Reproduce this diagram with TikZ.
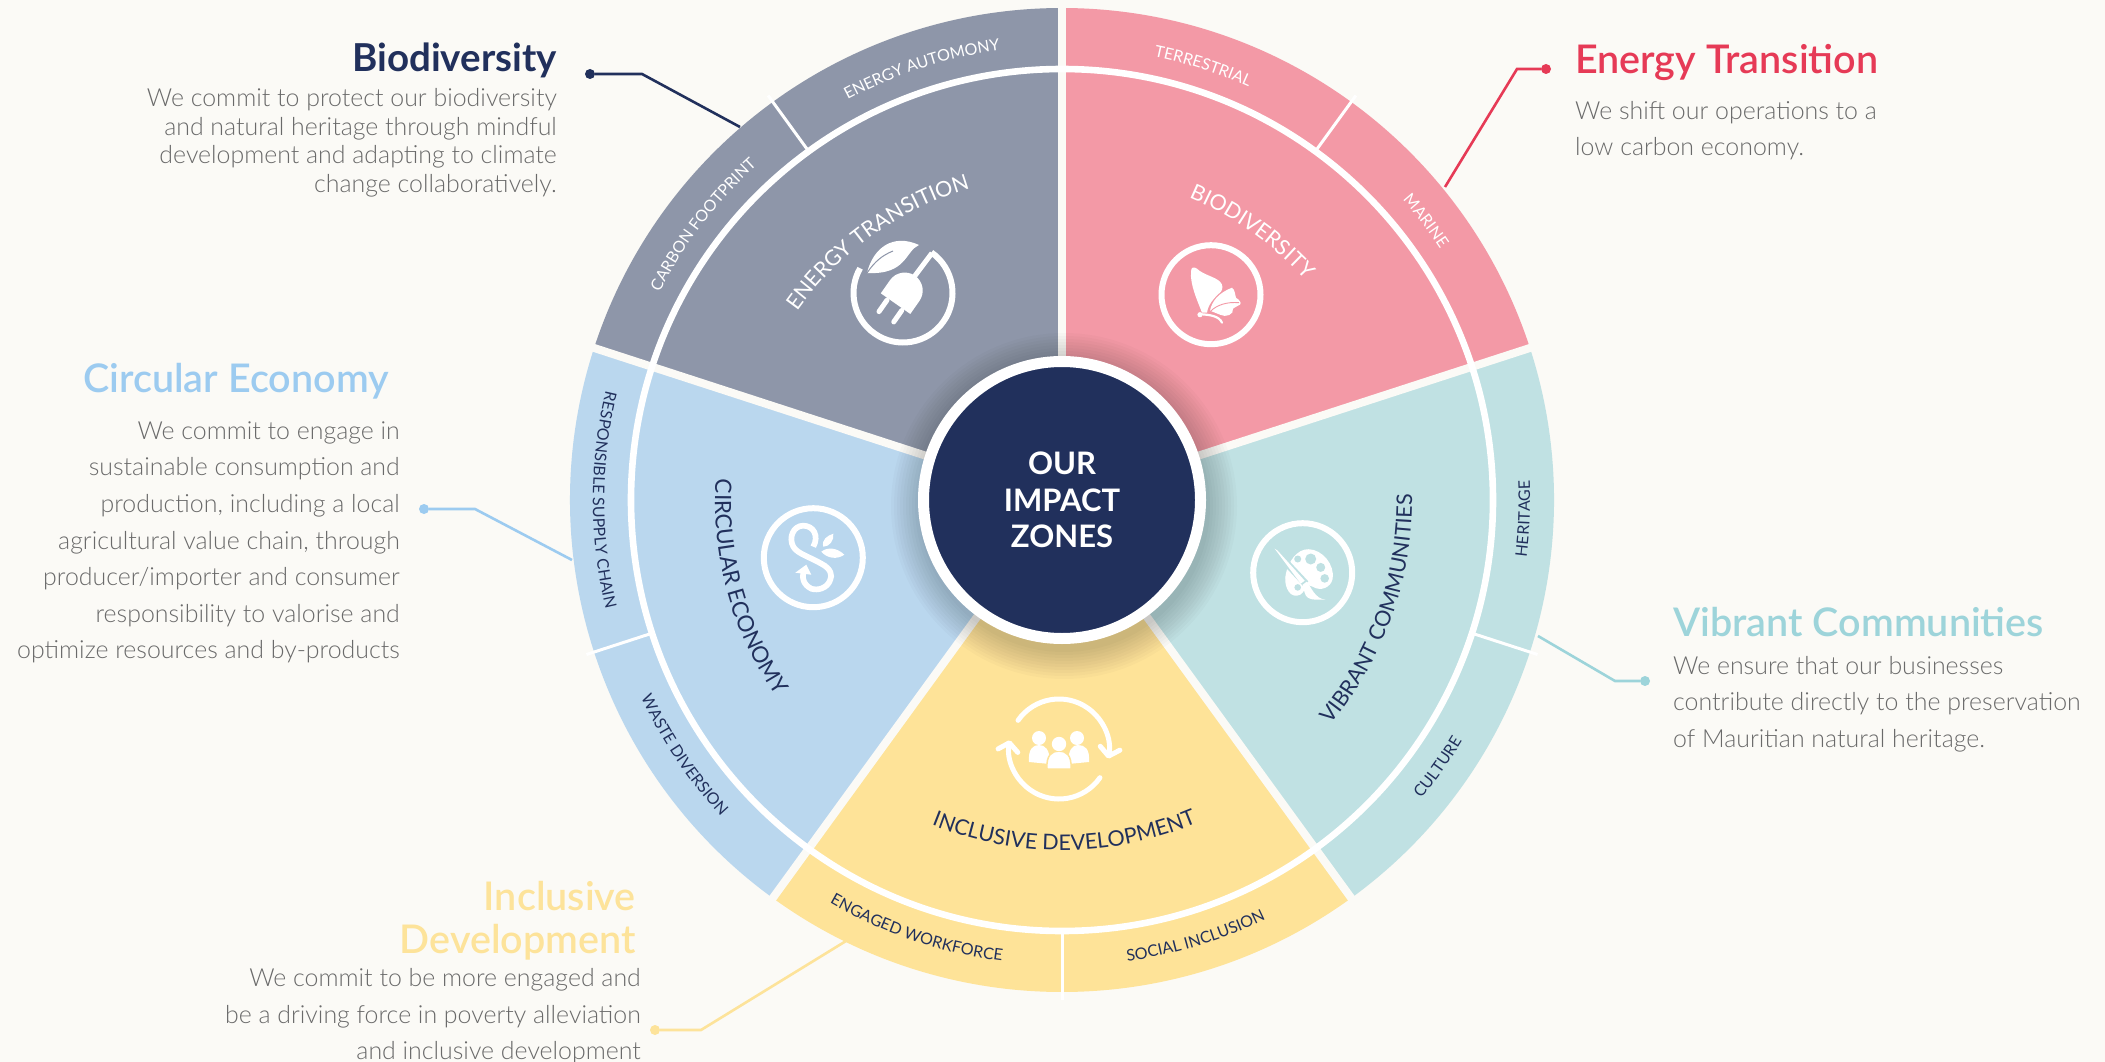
\documentclass[tikz,border=0pt]{standalone}
\usepackage{fontspec}
\setmainfont{Lato}
\newfontfamily\lightface{Lato Light}
\newfontfamily\headface{Lato Semibold}
\usetikzlibrary{positioning, calc, arrows.meta, decorations.text}
\definecolor{pagecream}{HTML}{FBFAF6}
\definecolor{navy}{HTML}{21305C}
\definecolor{zonegrey}{HTML}{8E96A9}
\definecolor{zonepink}{HTML}{F399A6}
\definecolor{zoneteal}{HTML}{C0E1E3}
\definecolor{zoneyellow}{HTML}{FEE398}
\definecolor{zoneblue}{HTML}{BAD7EE}
\definecolor{headred}{HTML}{E63A56}
\definecolor{headblue}{HTML}{9CCBF0}
\definecolor{headteal}{HTML}{9DD4DA}
\definecolor{headyellow}{HTML}{FDE39A}
\definecolor{bodygrey}{HTML}{6A6A6A}
\newcommand{\zonefont}{\fontsize{21.5}{26}\selectfont}
\newcommand{\rimfont}{\fontsize{16}{19}\selectfont}
% clockwise text, letter tops outwards: format, radius, middle angle, text
\newcommand{\cwlabel}[4]{\path[decorate, decoration={text along path, text align={center}, text={|#1|#4}}]
	($(hub)+(#3+65:#2)$) arc[start angle=#3+65, delta angle=-130, radius=#2];}
% counter clockwise text, letter tops towards the hub
\newcommand{\ccwlabel}[4]{\path[decorate, decoration={text along path, text align={center}, text={|#1|#4}}]
	($(hub)+(#3-65:#2)$) arc[start angle=#3-65, delta angle=130, radius=#2];}
\tikzset{
	headtext/.style={inner sep=0pt, font=\headface\fontsize{39.5}{43}\selectfont}, % the coloured titles
	bodytext/.style={inner sep=0pt, text=bodygrey, font=\lightface\fontsize{24.9}{36.6}\selectfont}, % the grey paragraphs
	dotend/.style={circle, inner sep=0pt, minimum size=10pt}, % the free end of a callout
	callout/.style={line width=2.6pt},
	gapline/.style={draw=pagecream, line width=8pt},
	rimline/.style={draw=white, line width=3pt},
	iconring/.style={draw=white, line width=6pt},
}

\begin{document}
\begin{tikzpicture}[x=1pt, y=1pt]
	\useasboundingbox (0,-1062) rectangle (2105,0);
	\fill[pagecream] (0,-1062) rectangle (2105,0);
	\coordinate (hub) at (1062,-500);

	% the five zones
	\fill[zonegrey] (hub) -- ($(hub)+(90:492)$) arc[start angle=90, delta angle=72, radius=492] -- cycle;
	\fill[zoneblue] (hub) -- ($(hub)+(162:492)$) arc[start angle=162, delta angle=72, radius=492] -- cycle;
	\fill[zoneyellow] (hub) -- ($(hub)+(234:492)$) arc[start angle=234, delta angle=72, radius=492] -- cycle;
	\fill[zoneteal] (hub) -- ($(hub)+(306:492)$) arc[start angle=306, delta angle=72, radius=492] -- cycle;
	\fill[zonepink] (hub) -- ($(hub)+(18:492)$) arc[start angle=18, delta angle=72, radius=492] -- cycle;

	\draw[gapline] (hub) -- ($(hub)+(90:497)$);
	\draw[gapline] (hub) -- ($(hub)+(162:497)$);
	\draw[gapline] (hub) -- ($(hub)+(234:497)$);
	\draw[gapline] (hub) -- ($(hub)+(306:497)$);
	\draw[gapline] (hub) -- ($(hub)+(18:497)$);

	\draw[white, line width=6.6pt] (hub) circle (431);

	\draw[rimline] ($(hub)+(126:431)$) -- ($(hub)+(126:500)$);
	\draw[rimline] ($(hub)+(198:431)$) -- ($(hub)+(198:500)$);
	\draw[rimline] ($(hub)+(270:431)$) -- ($(hub)+(270:500)$);
	\draw[rimline] ($(hub)+(342:431)$) -- ($(hub)+(342:500)$);
	\draw[rimline] ($(hub)+(54:431)$) -- ($(hub)+(54:500)$);

	% soft shadow round the middle disc
	\foreach \r in {146,149,...,173}
		\fill[black, opacity=0.02] ($(hub)+(2,-6)$) circle (\r);

	\node[circle, draw=white, fill=navy, line width=11pt, minimum size=277pt, inner sep=0pt, align=center, text=white,
		font=\fontsize{31}{36.5}\selectfont\bfseries] (zones) at (hub) {OUR\\IMPACT\\ZONES};

	% curved zone names
	\cwlabel{\zonefont\color{white}}{325}{125.5}{ENERGY TRANSITION}
	\cwlabel{\zonefont\color{white}}{328}{54.7}{BIODIVERSITY}
	\ccwlabel{\fontsize{22.5}{26}\selectfont\color{navy}}{347}{195.5}{CIRCULAR ECONOMY}
	\ccwlabel{\zonefont\color{navy}}{350}{-89.6}{INCLUSIVE DEVELOPMENT}
	\ccwlabel{\zonefont\color{navy}}{350}{-19.5}{VIBRANT COMMUNITIES}

	% curved labels in the rim
	\cwlabel{\rimfont\color{white}}{454}{108}{ENERGY AUTOMONY}
	\cwlabel{\rimfont\color{white}}{453}{142.5}{CARBON FOOTPRINT}
	\cwlabel{\rimfont\color{white}}{453}{72}{TERRESTRIAL}
	\cwlabel{\rimfont\color{white}}{454}{37.5}{MARINE}
	\ccwlabel{\rimfont\color{navy}}{469}{180}{RESPONSIBLE SUPPLY CHAIN}
	\ccwlabel{\rimfont\color{navy}}{465}{214}{WASTE DIVERSION}
	\ccwlabel{\rimfont\color{navy}}{465}{-108.7}{ENGAGED WORKFORCE}
	\ccwlabel{\rimfont\color{navy}}{466}{-73}{SOCIAL INCLUSION}
	\ccwlabel{\rimfont\color{navy}}{467}{-35.4}{CULTURE}
	\ccwlabel{\rimfont\color{navy}}{468}{-2.3}{HERITAGE}

	% plug icon
	\begin{scope}[shift={(903,-293)}]
		\draw[iconring] (55:49.5) arc[start angle=55, delta angle=-265, radius=49.5];
		\fill[white] (-36,20) .. controls (-30,45) and (-10,60) .. (16,48) .. controls (2,42) and (4,18) .. (-36,20);
		\draw[zonegrey, line width=1pt] (-36,20) .. controls (-28,32) and (-20,38) .. (-10,42);
		\draw[white, line width=5pt] (29,40) -- (8,12);
		\begin{scope}[rotate=55]
			\fill[white] (-13,-18) -- (-13,18) -- (3,18) arc[start angle=90, delta angle=-180, radius=18] -- cycle;
			\draw[white, line width=5pt, line cap=round] (-15,-9) -- (-29,-9);
			\draw[white, line width=5pt, line cap=round] (-15,9) -- (-29,9);
		\end{scope}
	\end{scope}

	% butterfly icon
	\begin{scope}[shift={(1211,-294.7)}]
		\draw[iconring] (0,0) circle (49.5);
		\fill[white] (-20,23) .. controls (-20,28) and (-17,28) .. (-14,26) .. controls (-8,20) and (4,18) .. (9,13) .. controls (12,10) and (12,6) .. (10,3) .. controls (3,-3) and (-3,-10) .. (-4,-18) -- (-9,-18) .. controls (-14,-5) and (-21,10) .. (-20,23);
		\fill[white] (-1,-16) .. controls (1,-6) and (8,2) .. (21,7) .. controls (24,5) and (24,0) .. (25,-3) .. controls (28,-5) and (31,-8) .. (29,-10) .. controls (26,-12) and (24,-12) .. (22,-14) .. controls (23,-20) and (15,-23) .. (9,-20) -- cycle;
		\draw[zonepink, line width=0.9pt] (-1,-17) .. controls (6,-10) and (16,-7) .. (28,-8);
		\fill[white] (-11,-20) circle (2.6);
		\draw[white, line width=2.2pt, line cap=round] (-11,-19.5) .. controls (-2,-20) and (8,-21) .. (11,-28);
	\end{scope}

	% loop icon
	\begin{scope}[shift={(813.3,-557.7)}]
		\draw[iconring] (0,0) circle (49.5);
		\draw[white, line width=5.7pt] (0,11) .. controls (6,22) and (0,32) .. (-10,32) .. controls (-20,32) and (-25,20) .. (-20,11) .. controls (-16,4) and (-4,1) .. (8,-6) .. controls (18,-11) and (19,-18) .. (17,-22) .. controls (14,-31) and (4,-33) .. (-2,-31) .. controls (-10,-27) and (-12,-20) .. (-9,-12);
		\fill[white] (-7,-7) -- (-18,-15) -- (-2,-17) -- cycle;
		\fill[white] (10,11) .. controls (8,18) and (14,22) .. (20,24) .. controls (21,17) and (16,11) .. (10,11);
		\fill[white] (8,6) .. controls (14,11) and (24,10) .. (31,3) .. controls (24,-2) and (14,-1) .. (8,6);
	\end{scope}

	% palette icon
	\begin{scope}[shift={(1302.7,-572.7)}]
		\draw[iconring] (0,0) circle (49.5);
		\fill[white] (6,23.5) .. controls (20,23) and (32,8) .. (30,-6) .. controls (28,-15) and (18,-19) .. (10,-14) -- (4,-12) .. controls (2,-18) and (-1,-23) .. (-6,-23) .. controls (-15,-24) and (-19,-10) .. (-17,-2) .. controls (-15,10) and (-6,24) .. (6,23.5);
		\fill[zoneteal] (-5,13.7) circle (3.5);
		\fill[zoneteal] (8,13.7) circle (5.5);
		\fill[zoneteal] (18,5.3) circle (4.5);
		\fill[zoneteal] (22,-5.7) circle (4.3);
		\fill[zoneteal] (-5,-14.7) circle (3.3);
		\draw[zoneteal, line width=7pt] (-24,18) -- (3,-11);
		\fill[white] (-28,24) -- (-25,22) -- (2,-8) -- (-2,-11) -- cycle;
		\fill[white] (4,-9) .. controls (9,-15) and (12,-26) .. (23,-27) .. controls (12,-27) and (4,-28) .. (2,-20) .. controls (1,-17) and (0,-14) .. (0,-12) -- cycle;
	\end{scope}

	% people icon
	\begin{scope}[shift={(1059,-749)}]
		\draw[white, line width=5pt, line cap=round, -{Straight Barb[length=8pt, width=20pt, round]}] (145:50) arc[start angle=145, delta angle=-156, radius=50];
		\draw[white, line width=5pt, line cap=round, -{Straight Barb[length=8pt, width=20pt, round]}] (-35:50) arc[start angle=-35, delta angle=-155, radius=50];
		\fill[white] (-20,11) circle (7);
		\fill[white] (18,11) circle (7);
		\fill[white] (-30,-13) .. controls (-31,0) and (-26,4) .. (-20,4) .. controls (-14,4) and (-9,0) .. (-9,-15) -- cycle;
		\fill[white] (9,-15) .. controls (9,0) and (14,4) .. (19,4) .. controls (26,4) and (31,0) .. (30,-13) -- cycle;
		\fill[zoneyellow] (0,5) circle (9);
		\filldraw[white, draw=zoneyellow, line width=1.5pt] (-12,-20) .. controls (-13,-6) and (-7,-2) .. (0,-2) .. controls (7,-2) and (13,-6) .. (12,-20) -- cycle;
		\fill[white] (0,5) circle (7.2);
	\end{scope}

	% Biodiversity text and callout
	\node[headtext, text=navy, anchor=north east, font=\bfseries\fontsize{38.5}{43}\selectfont] (headBio) at (557,-43) {Biodiversity};
	\node[bodytext, below=10pt of headBio.south east, anchor=north east, align=right, font=\lightface\fontsize{24.9}{28.6}\selectfont] (textBio) {We commit to protect our biodiversity\\and natural heritage through mindful\\development and adapting to climate\\change collaboratively.};
	\node[dotend, fill=navy] (dotBio) at (590,-74) {};
	\coordinate (kneeBio) at (642,-74);
	\coordinate (endBio) at (740,-127);
	\draw[callout, navy] (dotBio) -- (kneeBio) -- (endBio);

	% Energy Transition text and callout
	\node[headtext, text=headred, anchor=north west] (headEnergy) at (1575,-44) {Energy Transition};
	\node[bodytext, below=20pt of headEnergy.south west, anchor=north west, align=left] (textEnergy) {We shift our operations to a\\low carbon economy.};
	\node[dotend, fill=headred] (dotEnergy) at (1546,-69) {};
	\coordinate (kneeEnergy) at (1517,-69);
	\coordinate (endEnergy) at (1445,-187);
	\draw[callout, headred] (dotEnergy) -- (kneeEnergy) -- (endEnergy);

	% Circular Economy text and callout
	\node[headtext, text=headblue, anchor=north east] (headCircular) at (389,-363) {Circular Economy};
	\node[bodytext, below=22pt of headCircular.south east, xshift=11pt, anchor=north east, align=right] (textCircular) {We commit to engage in\\sustainable consumption and\\production, including a local\\agricultural value chain, through\\producer/importer and consumer\\responsibility to valorise and\\optimize resources and by-products};
	\node[dotend, fill=headblue] (dotCircular) at (424,-509) {};
	\coordinate (kneeCircular) at (475,-509);
	\coordinate (endCircular) at (572,-560);
	\draw[callout, headblue] (dotCircular) -- (kneeCircular) -- (endCircular);

	% Vibrant Communities text and callout
	\node[headtext, text=headteal, anchor=north west] (headVibrant) at (1673,-607) {Vibrant Communities};
	\node[bodytext, below=19pt of headVibrant.south west, anchor=north west, align=left] (textVibrant) {We ensure that our businesses\\contribute directly to the preservation\\of Mauritian natural heritage.};
	\node[dotend, fill=headteal] (dotVibrant) at (1645,-681) {};
	\coordinate (kneeVibrant) at (1615,-681);
	\coordinate (endVibrant) at (1538,-636);
	\draw[callout, headteal] (dotVibrant) -- (kneeVibrant) -- (endVibrant);

	% Inclusive Development text and callout
	\node[headtext, text=headyellow, anchor=north east, align=right] (headInclusive) at (636,-881) {Inclusive\\Development};
	\node[bodytext, below=8pt of headInclusive.south east, xshift=5pt, anchor=north east, align=right] (textInclusive) {We commit to be more engaged and\\be a driving force in poverty alleviation\\and inclusive development};
	\node[dotend, fill=headyellow] (dotInclusive) at (655,-1030) {};
	\coordinate (kneeInclusive) at (701,-1030);
	\coordinate (endInclusive) at (846,-941);
	\draw[callout, headyellow] (dotInclusive) -- (kneeInclusive) -- (endInclusive);
\end{tikzpicture}
\end{document}
